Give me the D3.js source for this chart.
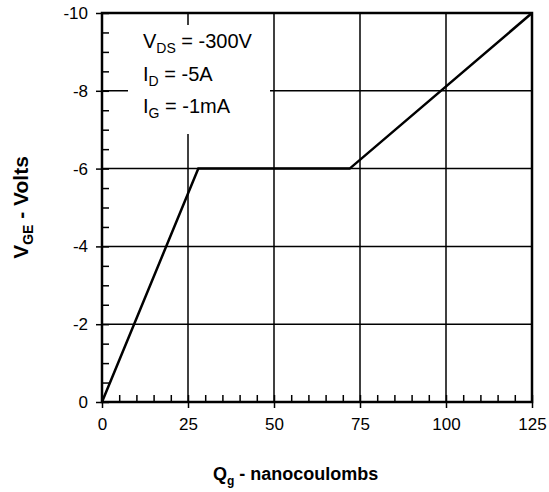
<!DOCTYPE html>
<html>
  <head>
    <meta charset="utf-8">
    <title>Gate charge</title>
    <script src="https://d3js.org/d3.v7.min.js"></script>
    <style>
      body { margin: 0; background: #fff; }
      text { font-family: "Liberation Sans", Arial, sans-serif; fill: #000; }
    </style>
  </head>
  <body>
    <script>
      // data
      var qg  = [0, 28, 72, 125];     // nanocoulombs
      var vge = [0, -6, -6, -10];     // volts
      var xTicks = [0, 25, 50, 75, 100, 125];
      var yTicks = [0, -2, -4, -6, -8, -10];
      var xMinor = d3.range(0, 126, 5);
      var yMinor = d3.range(0, -10.01, -0.5);
      var legend = [["V", "DS", " = -300V"], ["I", "D", " = -5A"], ["I", "G", " = -1mA"]];

      var W = 549, H = 492;
      var L = 102, R = 532, T = 13, B = 402;

      var x = d3.scaleLinear().domain([0, 125]).range([L, R]);
      var y = d3.scaleLinear().domain([0, -10]).range([B, T]);

      var svg = d3.select("body").append("svg")
        .attr("width", W)
        .attr("height", H);

      // grid
      svg.append("g").selectAll("line")
        .data(xTicks.slice(1, -1)).enter().append("line")
        .attr("x1", x).attr("x2", x).attr("y1", T).attr("y2", B)
        .attr("stroke", "#000").attr("stroke-width", 1.5);
      svg.append("g").selectAll("line")
        .data(yTicks.slice(1, -1)).enter().append("line")
        .attr("y1", y).attr("y2", y).attr("x1", L).attr("x2", R)
        .attr("stroke", "#000").attr("stroke-width", 1.5);

      // legend box hides the grid
      svg.append("rect")
        .attr("x", 128).attr("y", 25).attr("width", 142).attr("height", 109)
        .attr("fill", "#fff");

      var lg = svg.append("g");
      legend.forEach(function (d, i) {
        var t = lg.append("text")
          .attr("x", 143).attr("y", 48 + i * 32.5)
          .attr("font-size", 20);
        t.append("tspan").text(d[0]);
        t.append("tspan").attr("font-size", 14).attr("dy", 5).text(d[1]);
        t.append("tspan").attr("dy", -5).text(d[2]);
      });

      // minor ticks (inside)
      svg.append("g").attr("transform", "translate(0," + B + ")")
        .call(d3.axisTop(x).tickValues(xMinor).tickSize(7).tickFormat(""))
        .call(function (g) { g.select(".domain").remove(); });
      svg.append("g").attr("transform", "translate(" + L + ",0)")
        .call(d3.axisRight(y).tickValues(yMinor).tickSize(7).tickFormat(""))
        .call(function (g) { g.select(".domain").remove(); });

      // major ticks + labels
      var xa = svg.append("g").attr("transform", "translate(0," + B + ")")
        .call(d3.axisBottom(x).tickValues(xTicks).tickSize(6).tickPadding(10).tickFormat(function (d) { return String(d); }));
      var ya = svg.append("g").attr("transform", "translate(" + L + ",0)")
        .call(d3.axisLeft(y).tickValues(yTicks).tickSize(6).tickPadding(8).tickFormat(function (d) { return String(d); }));
      [xa, ya].forEach(function (g) {
        g.select(".domain").remove();
        g.selectAll("text").attr("font-size", 17).attr("font-family", "Liberation Sans, Arial, sans-serif");
      });
      svg.selectAll(".tick line").attr("stroke", "#000").attr("stroke-width", 1.5);

      // frame
      svg.append("rect")
        .attr("x", L).attr("y", T).attr("width", R - L).attr("height", B - T)
        .attr("fill", "none").attr("stroke", "#000").attr("stroke-width", 2.5);

      // curve
      var line = d3.line().x(function (d) { return x(d[0]); }).y(function (d) { return y(d[1]); });
      svg.append("path")
        .datum(d3.zip(qg, vge))
        .attr("d", line)
        .attr("fill", "none").attr("stroke", "#000").attr("stroke-width", 2.5);

      // axis titles
      var xt = svg.append("text").attr("x", 213).attr("y", 480)
        .attr("font-size", 18).attr("font-weight", "bold");
      xt.append("tspan").text("Q");
      xt.append("tspan").attr("font-size", 12).attr("dy", 5).text("g");
      xt.append("tspan").attr("dy", -5).text(" - nanocoulombs");

      var yt = svg.append("text")
        .attr("transform", "translate(28," + ((T + B) / 2) + ") rotate(-90)")
        .attr("text-anchor", "middle")
        .attr("font-size", 21).attr("font-weight", "bold");
      yt.append("tspan").text("V");
      yt.append("tspan").attr("font-size", 14).attr("dy", 5).text("GE");
      yt.append("tspan").attr("dy", -5).text(" - Volts");
    </script>
  </body>
</html>
